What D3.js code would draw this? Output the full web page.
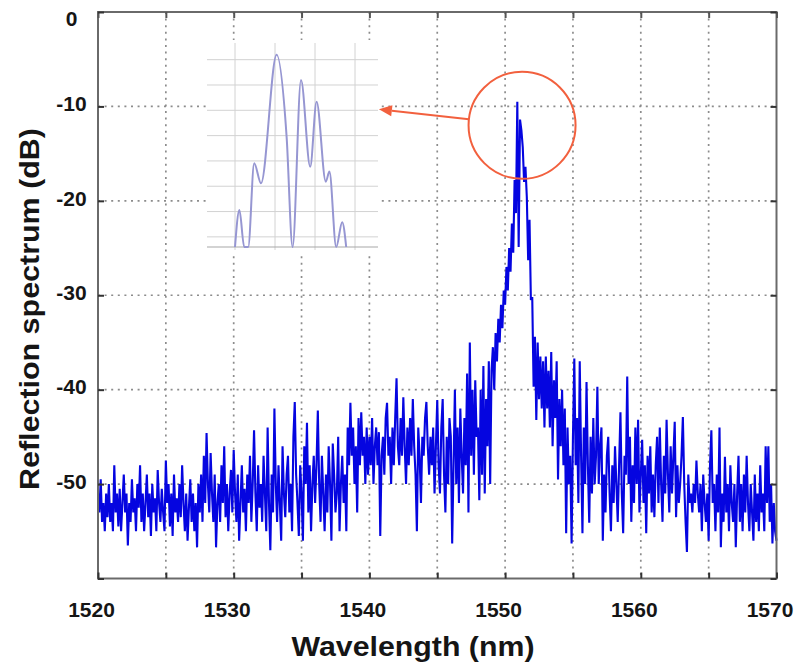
<!DOCTYPE html>
<html>
<head>
<meta charset="utf-8">
<script src="https://cdn.jsdelivr.net/npm/d3@7"></script>
<style>
  html, body { margin: 0; padding: 0; background: #fff; }
  #chart { width: 796px; height: 670px; }
  #chart text { font-family: Arial, "Liberation Sans", sans-serif; font-weight: bold; fill: #151515; }
</style>
</head>
<body>
<div id="chart"></div>
<script>
// Reflection spectrum, sampled every 0.1 nm from 1520 nm (one row = 1 nm)
const wavelengthStart = 1520;
const wavelengthStep = 0.1;
const reflectionDb = [
  -51, -53, -49.5, -54, -52, -55, -51, -53.5, -50, -54,      // 1520
  -52, -55, -48, -53, -51, -54.5, -50.5, -55, -52, -49,      // 1521
  -53, -51, -56.5, -52, -54, -49.5, -53, -51.5, -55, -50,    // 1522
  -52.5, -48, -54, -51, -55, -52, -49, -53.5, -51, -55.5,    // 1523
  -50, -53, -51.5, -55, -48.5, -52, -54, -50.5, -53, -55,    // 1524
  -47.5, -52, -50, -54.5, -51, -55.5, -49, -53, -51.5, -54,  // 1525
  -50, -53.5, -48, -52, -55, -51, -56, -52.5, -49.5, -54,    // 1526
  -51, -55, -52, -56.7, -50, -53, -49, -54, -47, -52,        // 1527
  -44.6, -50, -53, -46.7, -51, -54, -49, -56.7, -52, -50,    // 1528
  -54, -48, -52, -46, -53.5, -50, -55, -51, -48.5, -53,      // 1529
  -46.4, -51, -54, -49, -56, -52, -48, -53, -50.5, -55,      // 1530
  -49, -52, -47, -54, -50, -44.3, -51, -55, -48, -52.5,      // 1531
  -50, -54, -47, -51, -55, -44, -52, -57, -49, -53,          // 1532
  -42, -50, -54, -48, -52, -56, -46, -51, -53.5, -49,        // 1533
  -47, -53, -50, -55, -45, -41.3, -49, -52, -55.5, -48,      // 1534
  -51, -56, -46, -50, -43.5, -53, -48, -55, -50, -47,        // 1535
  -52, -48, -42.2, -50, -54, -47, -51, -55, -49, -53,        // 1536
  -46, -50, -56, -45.7, -49, -53, -51, -45, -55, -50,        // 1537
  -47, -52, -49, -55, -44, -48, -41.4, -47, -44, -50,        // 1538
  -46, -53, -43, -48, -42.4, -47, -45, -50, -44, -49,        // 1539
  -45, -48, -43, -50, -46, -44, -48, -44.5, -55.5, -47,      // 1540
  -45, -49, -43, -41.4, -47, -45, -50, -44, -48, -43,        // 1541
  -38.8, -46, -48, -43, -47, -40.8, -46, -50, -44, -48,      // 1542
  -43, -47, -41, -46, -49, -55, -44, -47, -52, -45,          // 1543
  -47, -43, -41.3, -46, -49, -45, -48, -44, -51, -46,        // 1544
  -41.1, -48, -51, -44, -41, -49, -53, -45, -50, -43,        // 1545
  -45, -56.3, -48, -40, -50, -44, -52, -42, -47, -51,        // 1546
  -43, -48, -38.3, -53, -35, -47, -40, -49, -39, -45,        // 1547
  -44, -51.7, -40, -49, -37.5, -51, -41, -46, -37, -50,      // 1548
  -38, -35.5, -40, -34, -37, -32.5, -35, -31, -33.5, -29.5,  // 1549
  -31, -27, -29.5, -25, -27.5, -22.4, -25.5, -17.8, -21.3, -9.5, // 1550
  -24.9, -11.4, -12.5, -14.3, -18, -16.4, -19.6, -26.3, -22, -30.5, // 1551
  -30.2, -39.7, -34.4, -43.2, -35, -41, -36.5, -42, -37, -44, // 1552
  -36.5, -42, -38, -44, -36, -46, -39, -43, -37, -49.5,      // 1553
  -41, -46, -40, -48, -42, -55.2, -44, -50, -47, -56.3,      // 1554
  -45, -36.7, -48, -43, -52, -37, -47, -55.2, -44, -50,      // 1555
  -39.2, -48, -54.1, -45, -51, -43, -50, -47, -39.7, -50,    // 1556
  -46, -44, -56, -49, -53, -47, -45, -51, -55, -48,          // 1557
  -52, -46, -50, -54, -48, -42.4, -51, -55.2, -47, -49,      // 1558
  -38.6, -50, -45, -54, -48, -52, -44, -50, -43.2, -53,      // 1559
  -49, -45.3, -52, -48, -55.2, -47, -51, -46, -53, -49,      // 1560
  -53.5, -48, -45, -52, -44, -50, -54, -47, -51, -43.2,      // 1561
  -49, -53, -46, -51, -47, -43.4, -53.5, -48, -52, -50,      // 1562
  -47, -42.9, -50, -54, -57.2, -49, -52, -51, -53, -50,      // 1563
  -52, -47.5, -51, -53, -50, -55, -49, -52, -54, -51,        // 1564
  -56, -48, -44.3, -52, -50, -55, -49, -53, -44, -56.7,      // 1565
  -51, -54, -47.1, -53, -50, -55, -48, -52, -54, -50,        // 1566
  -56.7, -51, -47, -54, -50, -55, -49, -53, -47, -52,        // 1567
  -55, -50, -53, -56, -49, -54, -51, -55, -48, -53,          // 1568
  -51, -55, -46, -52, -46, -54, -50, -56.3, -52, -55,        // 1569
  -56                                                        // 1570
];

// Zoomed view of the peak (inset)
const insetWavelength = [1550.800, 1550.811, 1550.823, 1550.833, 1550.848, 1550.865,
  1550.904, 1550.929, 1550.944, 1550.965, 1550.988, 1551.004, 1551.027, 1551.036,
  1551.053, 1551.068, 1551.078];
const insetDb = [-17.4, -15.94, -17.4, -17.4, -14.09, -14.88, -9.81, -13.04, -17.4,
  -10.80, -14.23, -11.66, -14.82, -14.42, -17.4, -16.42, -17.4];

const xTickValues = [1520, 1525, 1530, 1535, 1540, 1545, 1550, 1555, 1560, 1565, 1570];
const xTickLabels = [1520, 1530, 1540, 1550, 1560, 1570];
const xGridValues = [1525, 1530, 1535, 1540, 1545, 1550, 1555, 1560, 1565];
const yTickValues = [0, -10, -20, -30, -40, -50, -60];
const yTickLabels = [0, -10, -20, -30, -40, -50];
const yGridValues = [-10, -20, -30, -40, -50];
const insetGridX = [1550.8, 1550.9, 1551.0, 1551.1];
const insetGridY = [-10, -11, -12, -13, -14, -15, -16, -17];

// red marker round the peak and the arrow to the inset
const markCenter = { wavelength: 1551.25, db: -12.0 };
const arrowTip = { wavelength: 1540.7, db: -10.3 };

const SpectrumChart = {
    width: 796,
    height: 670,
    plot: { left: 98, right: 776.5, top: 12, bottom: 578.5 },
    inset: { left: 207, right: 378, top: 45, bottom: 247 },

    init() {
        this.render();
    },

    render() {
        const p = this.plot;
        const svg = d3.select('#chart').append('svg')
            .attr('width', this.width)
            .attr('height', this.height);

        const x = d3.scaleLinear().domain([1520, 1570]).range([p.left, p.right]);
        const y = d3.scaleLinear().domain([0, -60]).range([p.top, p.bottom]);

        // Dotted grid
        const grid = svg.append('g')
            .attr('stroke', '#8c8c8c')
            .attr('stroke-width', 1.7)
            .attr('stroke-dasharray', '2,4.6');

        grid.selectAll('line.vx')
            .data(xGridValues)
            .join('line')
            .attr('class', 'vx')
            .attr('x1', d => x(d)).attr('x2', d => x(d))
            .attr('y1', p.top).attr('y2', p.bottom);

        grid.selectAll('line.hy')
            .data(yGridValues)
            .join('line')
            .attr('class', 'hy')
            .attr('x1', p.left).attr('x2', p.right)
            .attr('y1', d => y(d)).attr('y2', d => y(d));

        this.drawInset(svg);

        // Spectrum trace
        const line = d3.line()
            .x((d, i) => x(wavelengthStart + i * wavelengthStep))
            .y(d => y(d));

        svg.append('path')
            .datum(reflectionDb)
            .attr('fill', 'none')
            .attr('stroke', '#0505e0')
            .attr('stroke-width', 2.1)
            .attr('stroke-linejoin', 'bevel')
            .attr('d', line);

        // Frame
        svg.append('rect')
            .attr('x', p.left).attr('y', p.top)
            .attr('width', p.right - p.left)
            .attr('height', p.bottom - p.top)
            .attr('fill', 'none')
            .attr('stroke', '#6a6a6a')
            .attr('stroke-width', 2);

        // Ticks (inward) on all four sides
        const tickLen = 6;
        const axisBottom = d3.axisBottom(x)
            .tickValues(xTickValues)
            .tickSizeInner(-tickLen).tickSizeOuter(0)
            .tickPadding(24)
            .tickFormat(d => xTickLabels.includes(d) ? d : '');
        const gx = svg.append('g')
            .attr('transform', `translate(0,${p.bottom})`)
            .call(axisBottom);
        gx.select('.domain').remove();
        gx.selectAll('.tick line').attr('stroke', '#333').attr('stroke-width', 2);
        gx.selectAll('.tick text')
            .attr('dx', -7)
            .style('font-size', '21px');

        const gxTop = svg.append('g')
            .attr('transform', `translate(0,${p.top})`)
            .call(d3.axisTop(x).tickValues(xTickValues).tickSizeInner(-tickLen).tickSizeOuter(0).tickFormat(''));
        gxTop.select('.domain').remove();
        gxTop.selectAll('.tick line').attr('stroke', '#555').attr('stroke-width', 2);

        const gy = svg.append('g')
            .attr('transform', `translate(${p.left},0)`)
            .call(d3.axisLeft(y).tickValues(yTickValues).tickSizeInner(-tickLen).tickSizeOuter(0)
                .tickPadding(0)
                .tickFormat(d => yTickLabels.includes(d) ? d : ''));
        gy.select('.domain').remove();
        gy.selectAll('.tick line').attr('stroke', '#333').attr('stroke-width', 2);
        gy.selectAll('.tick text')
            .attr('text-anchor', 'middle')
            .attr('x', 71.5 - p.left)
            .attr('dy', d => d === 0 ? '0.62em' : '0.2em')
            .style('font-size', '21px');

        const gyRight = svg.append('g')
            .attr('transform', `translate(${p.right},0)`)
            .call(d3.axisRight(y).tickValues(yTickValues).tickSizeInner(-tickLen).tickSizeOuter(0).tickFormat(''));
        gyRight.select('.domain').remove();
        gyRight.selectAll('.tick line').attr('stroke', '#333').attr('stroke-width', 2);

        // Axis titles
        svg.append('text')
            .attr('x', 413).attr('y', 656)
            .attr('text-anchor', 'middle')
            .attr('textLength', 243)
            .attr('lengthAdjust', 'spacingAndGlyphs')
            .style('font-size', '27px')
            .text('Wavelength (nm)');

        svg.append('text')
            .attr('transform', 'translate(39,309) rotate(-90)')
            .attr('text-anchor', 'middle')
            .attr('textLength', 362)
            .attr('lengthAdjust', 'spacingAndGlyphs')
            .style('font-size', '27px')
            .text('Reflection spectrum (dB)');

        this.drawMarker(svg, x, y);

        console.log(`Spectrum drawn: ${reflectionDb.length} samples`);
    },

    drawInset(svg) {
        const b = this.inset;
        const ix = d3.scaleLinear().domain([1550.73, 1551.1575]).range([b.left, b.right]);
        const iy = d3.scaleLinear().domain([-17.4, -9.42]).range([b.bottom, b.top]);

        // white panel hides the main grid
        svg.append('rect')
            .attr('x', b.left - 1).attr('y', b.top - 5)
            .attr('width', b.right - b.left + 3)
            .attr('height', b.bottom - b.top + 10)
            .attr('fill', '#fff');

        const g = svg.append('g');

        g.selectAll('line.ih')
            .data(insetGridY)
            .join('line')
            .attr('class', 'ih')
            .attr('x1', b.left).attr('x2', b.right)
            .attr('y1', d => iy(d)).attr('y2', d => iy(d))
            .attr('stroke', '#d2d2d2')
            .attr('stroke-width', 1);

        g.selectAll('line.iv')
            .data(insetGridX)
            .join('line')
            .attr('class', 'iv')
            .attr('x1', d => ix(d)).attr('x2', d => ix(d))
            .attr('y1', b.top - 2).attr('y2', b.bottom + 3)
            .attr('stroke', '#d2d2d2')
            .attr('stroke-width', 1);

        g.append('line')
            .attr('x1', b.left).attr('x2', b.right)
            .attr('y1', b.bottom).attr('y2', b.bottom)
            .attr('stroke', '#a8a8a8')
            .attr('stroke-width', 1.2);

        const curve = d3.line()
            .x((d, i) => ix(insetWavelength[i]))
            .y(d => iy(d))
            .curve(d3.curveMonotoneX);

        g.append('path')
            .datum(insetDb)
            .attr('fill', 'none')
            .attr('stroke', '#9696d2')
            .attr('stroke-width', 2)
            .attr('d', curve);
    },

    drawMarker(svg, x, y) {
        const red = '#f2603e';
        const cx = x(markCenter.wavelength);
        const cy = y(markCenter.db);
        const r = 53.5;

        svg.append('circle')
            .attr('cx', cx).attr('cy', cy).attr('r', r)
            .attr('fill', 'none')
            .attr('stroke', red)
            .attr('stroke-width', 2);

        const tx = x(arrowTip.wavelength);
        const ty = y(arrowTip.db);
        const ang = Math.atan2(ty - cy, tx - cx);
        const sx = cx + r * Math.cos(ang);
        const sy = cy + r * Math.sin(ang);

        // arrow head
        const headLen = 13, headW = 5.5;
        const bx = tx - headLen * Math.cos(ang);
        const by = ty - headLen * Math.sin(ang);
        const nx = -Math.sin(ang), ny = Math.cos(ang);

        svg.append('line')
            .attr('x1', sx).attr('y1', sy)
            .attr('x2', bx).attr('y2', by)
            .attr('stroke', red)
            .attr('stroke-width', 2);

        svg.append('path')
            .attr('d', `M${tx},${ty}L${bx + nx * headW},${by + ny * headW}L${bx - nx * headW},${by - ny * headW}Z`)
            .attr('fill', red);
    }
};

SpectrumChart.init();
</script>
</body>
</html>
